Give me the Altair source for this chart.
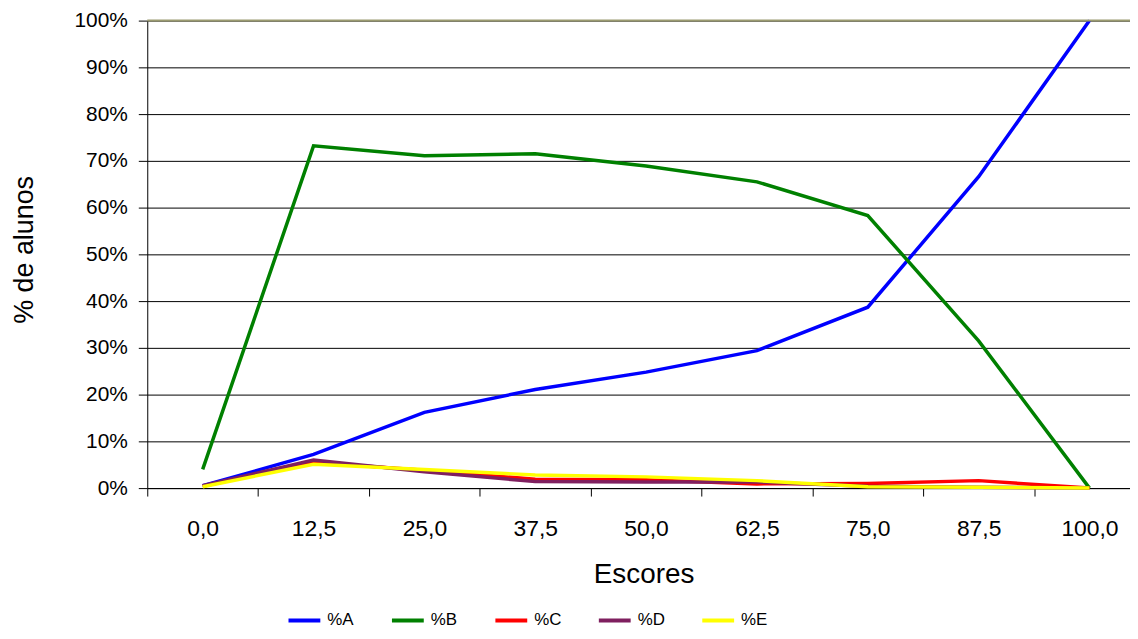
import altair as alt
import pandas as pd

escores = ["0,0", "12,5", "25,0", "37,5", "50,0", "62,5", "75,0", "87,5", "100,0"]
series = ["%A", "%B", "%C", "%D", "%E"]
pct_a = [0.5, 7.2, 16.2, 21.1, 24.8, 29.4, 38.7, 66.6, 100.0]
pct_b = [4.0, 73.2, 71.1, 71.5, 68.9, 65.5, 58.3, 31.5, 0.0]
pct_c = [0.4, 5.5, 3.8, 1.9, 1.8, 0.9, 1.0, 1.6, 0.0]
pct_d = [0.5, 6.0, 3.5, 1.4, 1.3, 1.3, 0.4, 0.2, 0.0]
pct_e = [0.3, 5.1, 4.0, 2.8, 2.4, 1.6, 0.3, 0.2, 0.0]
colors = ["#0000FF", "#008000", "#FF0000", "#7F1F5F", "#FFFF00"]
y_ticks = [0, 10, 20, 30, 40, 50, 60, 70, 80, 90, 100]

rows = []
for s, vals in zip(series, [pct_a, pct_b, pct_c, pct_d, pct_e]):
    for e, v in zip(escores, vals):
        rows.append({"Escore": e, "Serie": s, "Valor": v})
df = pd.DataFrame(rows)

FONT = "Liberation Sans"

x_enc = alt.X(
    "Escore:N",
    sort=escores,
    scale=alt.Scale(type="band", paddingInner=0, paddingOuter=0, range=[0, 1003]),
    axis=alt.Axis(
        title="Escores",
        labelAngle=0,
        tickBand="extent",
        tickSize=8,
        tickColor="black",
        domainColor="black",
        labelColor="black",
        labelFontSize=23,
        labelFont=FONT,
        labelPadding=22,
        titleFont=FONT,
        titleFontSize=28,
        titleFontWeight="normal",
        titleColor="black",
        titleX=499,
        titleY=95,
        titleBaseline="alphabetic",
        grid=False,
    ),
)

y_enc = alt.Y(
    "Valor:Q",
    scale=alt.Scale(domain=[0, 100], nice=False),
    axis=alt.Axis(
        title="% de alunos",
        values=y_ticks,
        labelExpr="datum.value + '%'",
        tickSize=9,
        tickColor="black",
        domainColor="black",
        labelColor="black",
        labelFontSize=21,
        labelFont=FONT,
        labelPadding=11,
        grid=True,
        gridColor="black",
        gridOpacity=1,
        gridWidth=1,
        titleFont=FONT,
        titleFontSize=27,
        titleFontWeight="normal",
        titleColor="black",
        titleAngle=270,
        titleX=-115,
        titleY=230,
        titleAlign="center",
        titleBaseline="alphabetic",
    ),
)

lines = alt.Chart(df).mark_line(strokeWidth=3.5).encode(
    x=x_enc,
    y=y_enc,
    color=alt.Color(
        "Serie:N",
        scale=alt.Scale(domain=series, range=colors),
        legend=alt.Legend(
            title=None,
            orient="none",
            direction="horizontal",
            legendX=140,
            legendY=585,
            symbolType="stroke",
            symbolSize=1024,
            symbolStrokeWidth=4,
            labelFont=FONT,
            labelFontSize=17,
            labelColor="black",
            labelOffset=5,
            columnPadding=29,
            gridAlign="all",
            padding=0,
        ),
    ),
)

top_df = pd.DataFrame({"v": [100]})
top_rule = alt.Chart(top_df).mark_rule(color="#9a9a70", strokeWidth=2).encode(
    y=alt.Y("v:Q", scale=alt.Scale(domain=[0, 100], nice=False))
)

chart = (
    alt.layer(lines, top_rule)
    .properties(
        width=988,
        height=470,
        padding={"left": 140, "top": 11, "right": 0, "bottom": 142},
        autosize=alt.AutoSizeParams(type="none"),
    )
    .configure_view(stroke=None)
)

chart.save("out.html", embed_options={"renderer": "svg", "actions": False})
